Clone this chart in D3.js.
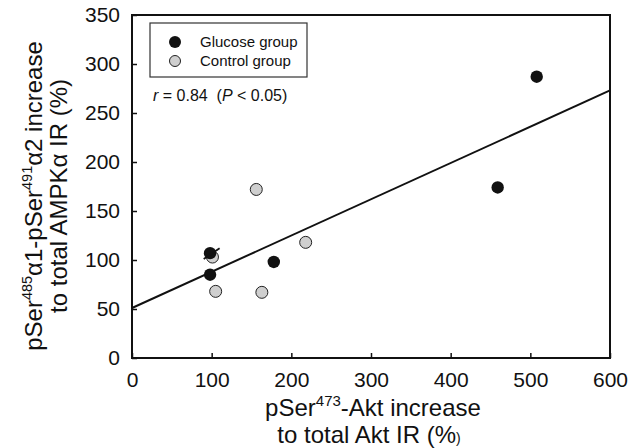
<!DOCTYPE html>
<html><head><meta charset="utf-8">
<script src="https://cdn.jsdelivr.net/npm/d3@7"></script>
<style>body{margin:0;background:#fff}svg{display:block}text{font-family:"Liberation Sans",Arial,sans-serif;fill:#111}</style>
</head><body><svg id="c" width="637" height="448"></svg>
<script>
// Data
const glucoseX = [508, 459, 98, 98, 178];
const glucoseY = [287, 174, 107, 85, 98];
const controlX = [156, 101, 218, 105, 163];
const controlY = [172, 103, 118, 68, 67];
const fitX = [0, 600];
const fitY = [51, 273];
const markX = [90, 110];   // small slanted stroke over a point
const markY = [101, 112];
const xTicks = [0, 100, 200, 300, 400, 500, 600];
const yTicks = [0, 50, 100, 150, 200, 250, 300, 350];

const svg = d3.select("#c");
const L = 132, R = 610, T = 15, B = 358;
const x = d3.scaleLinear().domain([0, 600]).range([L, R]);
const y = d3.scaleLinear().domain([0, 350]).range([B, T]);

// axes (ticks inward)
const xa = svg.append("g").attr("transform", `translate(0,${B})`)
  .call(d3.axisBottom(x).tickValues(xTicks).tickSizeInner(-5).tickSizeOuter(0).tickPadding(14));
const ya = svg.append("g").attr("transform", `translate(${L},0)`)
  .call(d3.axisLeft(y).tickValues(yTicks).tickSizeInner(-5).tickSizeOuter(0).tickPadding(12));
[xa, ya].forEach(a => {
  a.select(".domain").remove();
  a.selectAll(".tick line").attr("stroke", "#111").attr("stroke-width", 1.5);
  a.selectAll(".tick text").style("font-size", "21px").attr("fill", "#111");
});
// frame
svg.append("rect").attr("x", L).attr("y", T).attr("width", R - L).attr("height", B - T)
  .attr("fill", "none").attr("stroke", "#111").attr("stroke-width", 2);

// regression line
const line = d3.line().x(d => x(d[0])).y(d => y(d[1]));
svg.append("path").datum(d3.zip(fitX, fitY)).attr("d", line)
  .attr("stroke", "#111").attr("stroke-width", 2).attr("fill", "none");

// points
svg.append("g").selectAll("circle").data(d3.zip(controlX, controlY)).join("circle")
  .attr("cx", d => x(d[0])).attr("cy", d => y(d[1])).attr("r", 6)
  .attr("fill", "#cfcfcf").attr("stroke", "#222").attr("stroke-width", 1);
svg.append("g").selectAll("circle").data(d3.zip(glucoseX, glucoseY)).join("circle")
  .attr("cx", d => x(d[0])).attr("cy", d => y(d[1])).attr("r", 6.2)
  .attr("fill", "#111");
svg.append("path").datum(d3.zip(markX, markY)).attr("d", line)
  .attr("stroke", "#111").attr("stroke-width", 1.8).attr("fill", "none");

// legend
svg.append("rect").attr("x", 150).attr("y", 23).attr("width", 157).attr("height", 54)
  .attr("fill", "#fff").attr("stroke", "#333").attr("stroke-width", 1.2);
svg.append("circle").attr("cx", 175).attr("cy", 42).attr("r", 6).attr("fill", "#111");
svg.append("circle").attr("cx", 175).attr("cy", 61).attr("r", 5.5).attr("fill", "#cfcfcf").attr("stroke", "#222");
svg.append("text").attr("x", 200).attr("y", 47).style("font-size", "15px").text("Glucose group");
svg.append("text").attr("x", 200).attr("y", 66).style("font-size", "15px").text("Control group");

const rt = svg.append("text").attr("x", 153).attr("y", 101).style("font-size", "16px").attr("xml:space", "preserve");
rt.append("tspan").style("font-style", "italic").text("r");
rt.append("tspan").text(" = 0.84  (");
rt.append("tspan").style("font-style", "italic").text("P");
rt.append("tspan").text(" < 0.05)");

// x title
const xt1 = svg.append("text").attr("x", 373).attr("y", 416).attr("text-anchor", "middle").style("font-size", "24px");
xt1.append("tspan").text("pSer");
xt1.append("tspan").attr("dy", -10).style("font-size", "15px").text("473");
xt1.append("tspan").attr("dy", 10).text("-Akt increase");
const xt2 = svg.append("text").attr("x", 369).attr("y", 443).attr("text-anchor", "middle").style("font-size", "24px");
xt2.append("tspan").text("to total Akt IR (%");
xt2.append("tspan").style("font-size", "14px").text(")");

// y title
const yg = svg.append("g").attr("transform", "translate(42,196) rotate(-90)");
const yt1 = yg.append("text").attr("text-anchor", "middle").style("font-size", "24px");
yt1.append("tspan").text("pSer");
yt1.append("tspan").attr("dy", -10).style("font-size", "14.5px").text("485");
yt1.append("tspan").attr("dy", 10).text("α1-pSer");
yt1.append("tspan").attr("dy", -10).style("font-size", "14.5px").text("491");
yt1.append("tspan").attr("dy", 10).text("α2 increase");
yg.append("text").attr("y", 25).attr("text-anchor", "middle").style("font-size", "24px").text("to total AMPKα IR (%)");
</script></body></html>
